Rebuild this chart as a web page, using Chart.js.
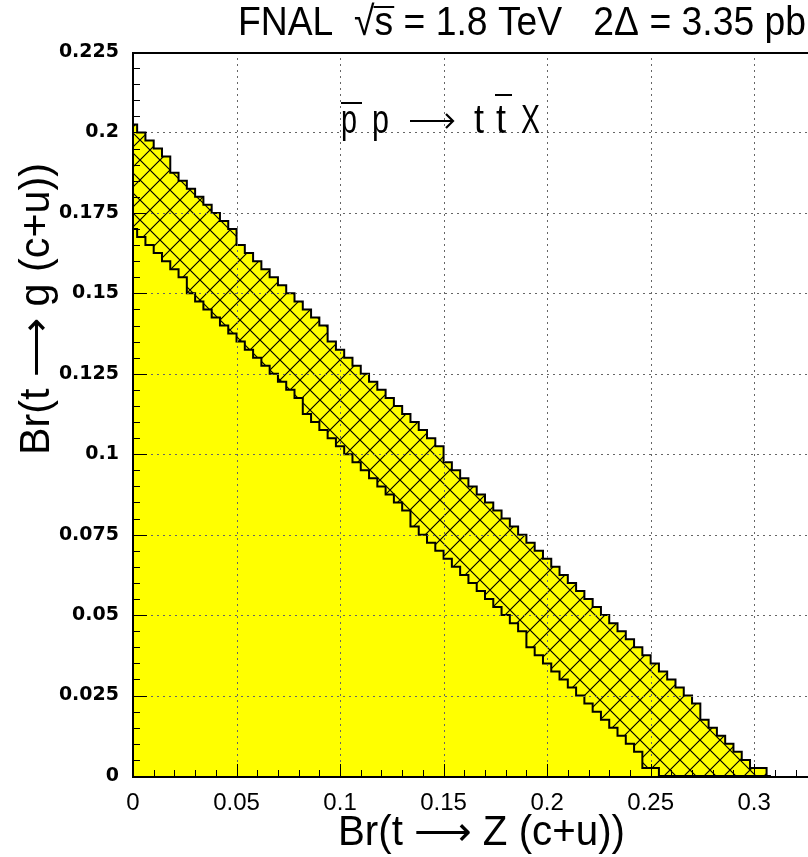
<!DOCTYPE html>
<html>
<head>
<meta charset="utf-8">
<script src="https://cdn.jsdelivr.net/npm/chart.js@4.4.1/dist/chart.umd.min.js"></script>
<style>
  body { margin: 0; background: #fff; }
  #wrap { width: 808px; height: 857px; }
</style>
</head>
<body>
<div id="wrap"><canvas id="chart" width="808" height="857"></canvas></div>
<script>
// Br(t -> Z q) bins (x) with the two exclusion contours
const binX = [
  0, 0.004, 0.008, 0.012, 0.016, 0.02, 0.024, 0.028, 0.032, 0.036,
  0.04, 0.044, 0.048, 0.052, 0.056, 0.06, 0.064, 0.068, 0.072, 0.076,
  0.08, 0.084, 0.088, 0.092, 0.096, 0.1, 0.104, 0.108, 0.112, 0.116,
  0.12, 0.124, 0.128, 0.132, 0.136, 0.14, 0.144, 0.148, 0.152, 0.156,
  0.16, 0.164, 0.168, 0.172, 0.176, 0.18, 0.184, 0.188, 0.192, 0.196,
  0.2, 0.204, 0.208, 0.212, 0.216, 0.22, 0.224, 0.228, 0.232, 0.236,
  0.24, 0.244, 0.248, 0.252, 0.256, 0.26, 0.264, 0.268, 0.272, 0.276,
  0.28, 0.284, 0.288, 0.292, 0.296, 0.3, 0.304, 0.308
];
// lower contour (solid yellow below)
const lowerEdge = [
  0.17, 0.1675, 0.165, 0.1625, 0.16, 0.1575, 0.155, 0.15, 0.1475, 0.145,
  0.1425, 0.14, 0.1375, 0.135, 0.1325, 0.13, 0.1275, 0.125, 0.1225, 0.12,
  0.1175, 0.1125, 0.11, 0.1075, 0.105, 0.1025, 0.1, 0.0975, 0.095, 0.0925,
  0.09, 0.0875, 0.085, 0.0825, 0.0775, 0.075, 0.0725, 0.07, 0.0675, 0.065,
  0.0625, 0.06, 0.0575, 0.055, 0.0525, 0.05, 0.0475, 0.045, 0.04, 0.0375,
  0.035, 0.0325, 0.03, 0.0275, 0.025, 0.0225, 0.02, 0.0175, 0.015, 0.0125,
  0.01, 0.0075, 0.0025, 0.0025, 0, 0, 0, 0, 0, 0,
  0, 0, 0, 0, 0, 0, 0, 0
];
// upper contour (hatched band between the two)
const upperEdge = [
  0.2025, 0.2, 0.1975, 0.195, 0.1925, 0.1875, 0.185, 0.1825, 0.18, 0.1775,
  0.175, 0.1725, 0.17, 0.165, 0.1625, 0.16, 0.1575, 0.155, 0.1525, 0.15,
  0.1475, 0.145, 0.1425, 0.14, 0.135, 0.1325, 0.13, 0.1275, 0.125, 0.1225,
  0.12, 0.1175, 0.115, 0.1125, 0.11, 0.1075, 0.105, 0.1025, 0.0975, 0.095,
  0.0925, 0.09, 0.0875, 0.085, 0.0825, 0.08, 0.0775, 0.075, 0.0725, 0.07,
  0.0675, 0.065, 0.0625, 0.06, 0.0575, 0.055, 0.0525, 0.05, 0.0475, 0.045,
  0.0425, 0.04, 0.0375, 0.035, 0.0325, 0.03, 0.0275, 0.025, 0.0225, 0.0175,
  0.015, 0.0125, 0.01, 0.0075, 0.005, 0.0025, 0.0025, 0
];

const xTickLabels = ['0', '0.05', '0.1', '0.15', '0.2', '0.25', '0.3'];
const yTickLabels = ['0', '0.025', '0.05', '0.075', '0.1', '0.125', '0.15', '0.175', '0.2', '0.225'];
const xGrid = [0.05, 0.1, 0.15, 0.2, 0.25, 0.3];
const yGrid = [0.025, 0.05, 0.075, 0.1, 0.125, 0.15, 0.175, 0.2];

function makeHatch() {
  const c = document.createElement('canvas');
  c.width = 20; c.height = 20;
  const g = c.getContext('2d');
  g.fillStyle = '#ffff00';
  g.fillRect(0, 0, 20, 20);
  g.strokeStyle = '#000';
  g.lineWidth = 1.2;
  g.beginPath();
  for (const k of [-20, 0, 20]) {
    g.moveTo(-2, -2 + k); g.lineTo(22, 22 + k);
    g.moveTo(-2, 22 + k); g.lineTo(22, -2 + k);
  }
  g.stroke();
  return g.createPattern(c, 'repeat');
}

function fitText(ctx, text, x, y, width, font, angle) {
  ctx.save();
  ctx.font = font;
  const w = ctx.measureText(text).width;
  ctx.translate(x, y);
  if (angle) ctx.rotate(angle);
  ctx.scale(width / w, 1);
  ctx.fillText(text, 0, 0);
  ctx.restore();
}

const ARROW = '\u27F6';

const decorPlugin = {
  id: 'decor',
  afterDatasetsDraw(chart) {
    const { ctx, chartArea: a, scales: { x, y } } = chart;
    ctx.save();
    // dotted grid
    ctx.strokeStyle = '#666';
    ctx.lineWidth = 1;
    ctx.setLineDash([2, 4]);
    ctx.beginPath();
    xGrid.forEach(v => {
      const px = Math.round(x.getPixelForValue(v)) + 0.5;
      ctx.moveTo(px, a.top); ctx.lineTo(px, a.bottom);
    });
    yGrid.forEach(v => {
      const py = Math.round(y.getPixelForValue(v)) + 0.5;
      ctx.moveTo(a.left, py); ctx.lineTo(a.right, py);
    });
    ctx.stroke();
    ctx.setLineDash([]);

    // inward ticks
    ctx.strokeStyle = '#000';
    ctx.lineWidth = 1;
    ctx.beginPath();
    for (let i = 1; i * 0.005 < 0.225; i++) {
      const py = Math.round(y.getPixelForValue(i * 0.005)) + 0.5;
      const len = i % 5 === 0 ? 14 : 7;
      ctx.moveTo(a.left, py); ctx.lineTo(a.left + len, py);
    }
    for (let i = 1; i * 0.01 < x.max; i++) {
      const px = Math.round(x.getPixelForValue(i * 0.01)) + 0.5;
      const len = i % 5 === 0 ? 12 : 6;
      ctx.moveTo(px, a.bottom); ctx.lineTo(px, a.bottom - len);
    }
    ctx.stroke();

    // frame
    ctx.lineWidth = 2;
    ctx.beginPath();
    ctx.moveTo(a.left, a.top + 1); ctx.lineTo(a.right, a.top + 1);
    ctx.moveTo(a.left, a.top); ctx.lineTo(a.left, a.bottom + 1);
    ctx.lineTo(a.right, a.bottom + 1);
    ctx.stroke();
    ctx.restore();
  },
  afterDraw(chart) {
    const ctx = chart.ctx;
    ctx.save();
    ctx.fillStyle = '#000';
    ctx.strokeStyle = '#000';
    ctx.textBaseline = 'alphabetic';
    ctx.textAlign = 'left';

    // title with overline on s
    const title = 'FNAL  \u221As = 1.8 TeV   2\u0394 = 3.35 pb';
    const tFont = '41px "Liberation Sans"';
    ctx.font = tFont;
    const tw = ctx.measureText(title).width;
    const sx = 568 / tw;
    fitText(ctx, title, 238, 35, 568, tFont);
    ctx.font = tFont;
    const sLeft = 238 + ctx.measureText('FNAL  \u221A').width * sx;
    const sW = ctx.measureText('s').width * sx;
    ctx.lineWidth = 2;
    ctx.beginPath();
    ctx.moveTo(sLeft - 1, 7); ctx.lineTo(sLeft + sW + 1, 7);
    ctx.stroke();

    // process label  p̄ p -> t t̄ X
    const pf = '41px "Liberation Sans"';
    const piece = (txt, left, w) => fitText(ctx, txt, left, 133, w, pf);
    piece('p', 341, 16);
    piece('p', 372, 17);
    piece('t', 474, 10);
    piece('t', 496, 10);
    piece('X', 521, 19);
    ctx.lineWidth = 2.2;
    ctx.beginPath();
    ctx.moveTo(341, 103); ctx.lineTo(362, 103);
    ctx.moveTo(495, 95); ctx.lineTo(512, 95);
    ctx.moveTo(410, 121); ctx.lineTo(453, 121);
    ctx.moveTo(446, 114); ctx.lineTo(453, 121); ctx.lineTo(446, 128);
    ctx.stroke();

    // axis titles
    fitText(ctx, 'Br(t ' + ARROW + ' Z (c+u))', 338, 845, 287, '42px "Liberation Sans"');
    fitText(ctx, 'Br(t ' + ARROW + ' g (c+u))', 49, 455, 292, '42px "Liberation Sans"', -Math.PI / 2);
    ctx.restore();
  }
};

const ctx = document.getElementById('chart').getContext('2d');
new Chart(ctx, {
  type: 'line',
  data: {
    datasets: [
      {
        label: 'excluded',
        data: binX.map((x, i) => ({ x: x, y: lowerEdge[i] })),
        stepped: 'middle',
        borderColor: '#000',
        borderWidth: 2,
        pointRadius: 0,
        backgroundColor: '#ffff00',
        fill: 'origin'
      },
      {
        label: 'band',
        data: binX.map((x, i) => ({ x: x, y: upperEdge[i] })),
        stepped: 'middle',
        borderColor: '#000',
        borderWidth: 2,
        pointRadius: 0,
        backgroundColor: makeHatch(),
        fill: '-1'
      }
    ]
  },
  options: {
    responsive: false,
    animation: false,
    layout: { padding: { top: 52, right: 0, left: 0, bottom: 0 } },
    plugins: { legend: { display: false }, tooltip: { enabled: false } },
    scales: {
      x: {
        type: 'linear',
        min: 0,
        max: 0.326,
        afterFit: s => { s.height = 81; },
        grid: { display: false, drawTicks: false },
        border: { display: false },
        ticks: {
          stepSize: 0.05,
          includeBounds: false,
          autoSkip: false,
          maxRotation: 0,
          padding: 13,
          color: '#000',
          font: { family: 'Liberation Sans', size: 24 },
          callback: (v, i) => xTickLabels[i]
        }
      },
      y: {
        type: 'linear',
        min: 0,
        max: 0.225,
        afterFit: s => { s.width = 133; },
        grid: { display: false, drawTicks: false },
        border: { display: false },
        ticks: {
          stepSize: 0.025,
          padding: 14,
          color: '#000',
          font: { family: 'DejaVu Sans', size: 19, weight: 'bold' },
          callback: (v, i) => yTickLabels[i]
        }
      }
    }
  },
  plugins: [decorPlugin]
});
</script>
</body>
</html>
